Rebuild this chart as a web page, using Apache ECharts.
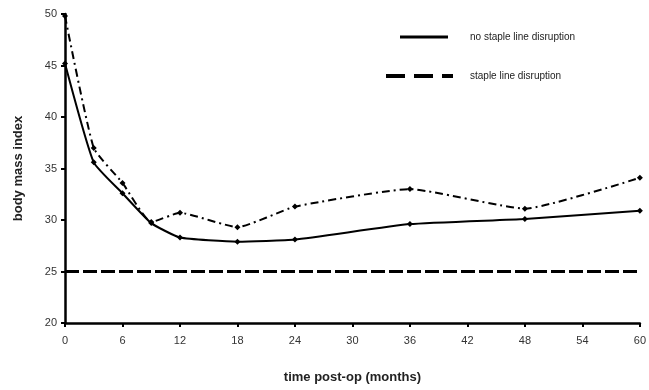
<!DOCTYPE html>
<html><head><meta charset="utf-8">
<script src="https://cdn.jsdelivr.net/npm/echarts@6/dist/echarts.min.js"></script>
<style>html,body{margin:0;padding:0;background:#fff}#c{width:649px;height:390px}</style>
</head><body><div id="c"></div>
<script>
const months = [0, 3, 6, 9, 12, 18, 24, 36, 48, 60];
const noDisruption = [45.2, 35.6, 32.6, 29.7, 28.3, 27.9, 28.1, 29.6, 30.1, 30.9];
const disruption = [49.8, 37.0, 33.6, 29.8, 30.7, 29.3, 31.3, 33.0, 31.1, 34.1];
const refMonths = [0, 60];
const refBMI = [25, 25];
const seriesNames = ['no staple line disruption', 'staple line disruption'];
const xTitle = 'time post-op (months)';
const yTitle = 'body mass index';

const chart = echarts.init(document.getElementById('c'), null, {renderer: 'canvas'});
const font = 'Liberation Sans, Arial, sans-serif';
const pair = (xs, ys) => xs.map((x, i) => [x, ys[i]]);
chart.setOption({
  animation: false,
  backgroundColor: '#fff',
  grid: {left: 65, right: 8, top: 14, bottom: 67},
  legend: [
    {data: [{name: seriesNames[0], icon: 'path://M0,0h48v3h-48z'}],
     left: 395, top: 27, itemWidth: 48, itemHeight: 3,
     textStyle: {fontFamily: font, fontSize: 10, color: '#222', padding: [0, 0, 12, 17]}},
    {data: [{name: seriesNames[1], icon: 'path://M0,0h19v4h-19zM28,0h19v4h-19zM56,0h11v4h-11z'}],
     left: 381, top: 66, itemWidth: 67, itemHeight: 4,
     textStyle: {fontFamily: font, fontSize: 10, color: '#222', padding: [0, 0, 2, 12]}}
  ],
  xAxis: {
    type: 'value', min: 0, max: 60, interval: 6,
    name: xTitle, nameLocation: 'middle', nameGap: 48,
    nameTextStyle: {fontFamily: font, fontSize: 13, fontWeight: 'bold', color: '#222'},
    axisLine: {lineStyle: {color: '#000', width: 2.5}},
    axisTick: {length: 4, lineStyle: {color: '#000', width: 2}},
    axisLabel: {fontFamily: font, fontSize: 11, color: '#333', margin: 12},
    splitLine: {show: false}
  },
  yAxis: {
    type: 'value', min: 20, max: 50, interval: 5,
    name: yTitle, nameLocation: 'middle', nameGap: 40, nameRotate: 90,
    nameTextStyle: {fontFamily: font, fontSize: 13, fontWeight: 'bold', color: '#222'},
    axisLine: {show: true, lineStyle: {color: '#000', width: 2.5}},
    axisTick: {show: true, length: 4, lineStyle: {color: '#000', width: 2}},
    axisLabel: {fontFamily: font, fontSize: 11, color: '#333', margin: 8},
    splitLine: {show: false}
  },
  series: [
    {name: seriesNames[0], type: 'line', data: pair(months, noDisruption), smooth: 0.15,
     symbol: 'diamond', symbolSize: 6, color: '#000',
     lineStyle: {color: '#000', width: 2}, itemStyle: {color: '#000'}},
    {name: seriesNames[1], type: 'line', data: pair(months, disruption), smooth: 0.15,
     symbol: 'diamond', symbolSize: 6, color: '#000',
     lineStyle: {color: '#000', width: 2, type: [8, 4, 2, 4]}, itemStyle: {color: '#000'}},
    {name: 'reference', type: 'line', data: pair(refMonths, refBMI), symbol: 'none',
     lineStyle: {color: '#000', width: 3, type: [14, 4]}, silent: true}
  ]
});
</script></body></html>
